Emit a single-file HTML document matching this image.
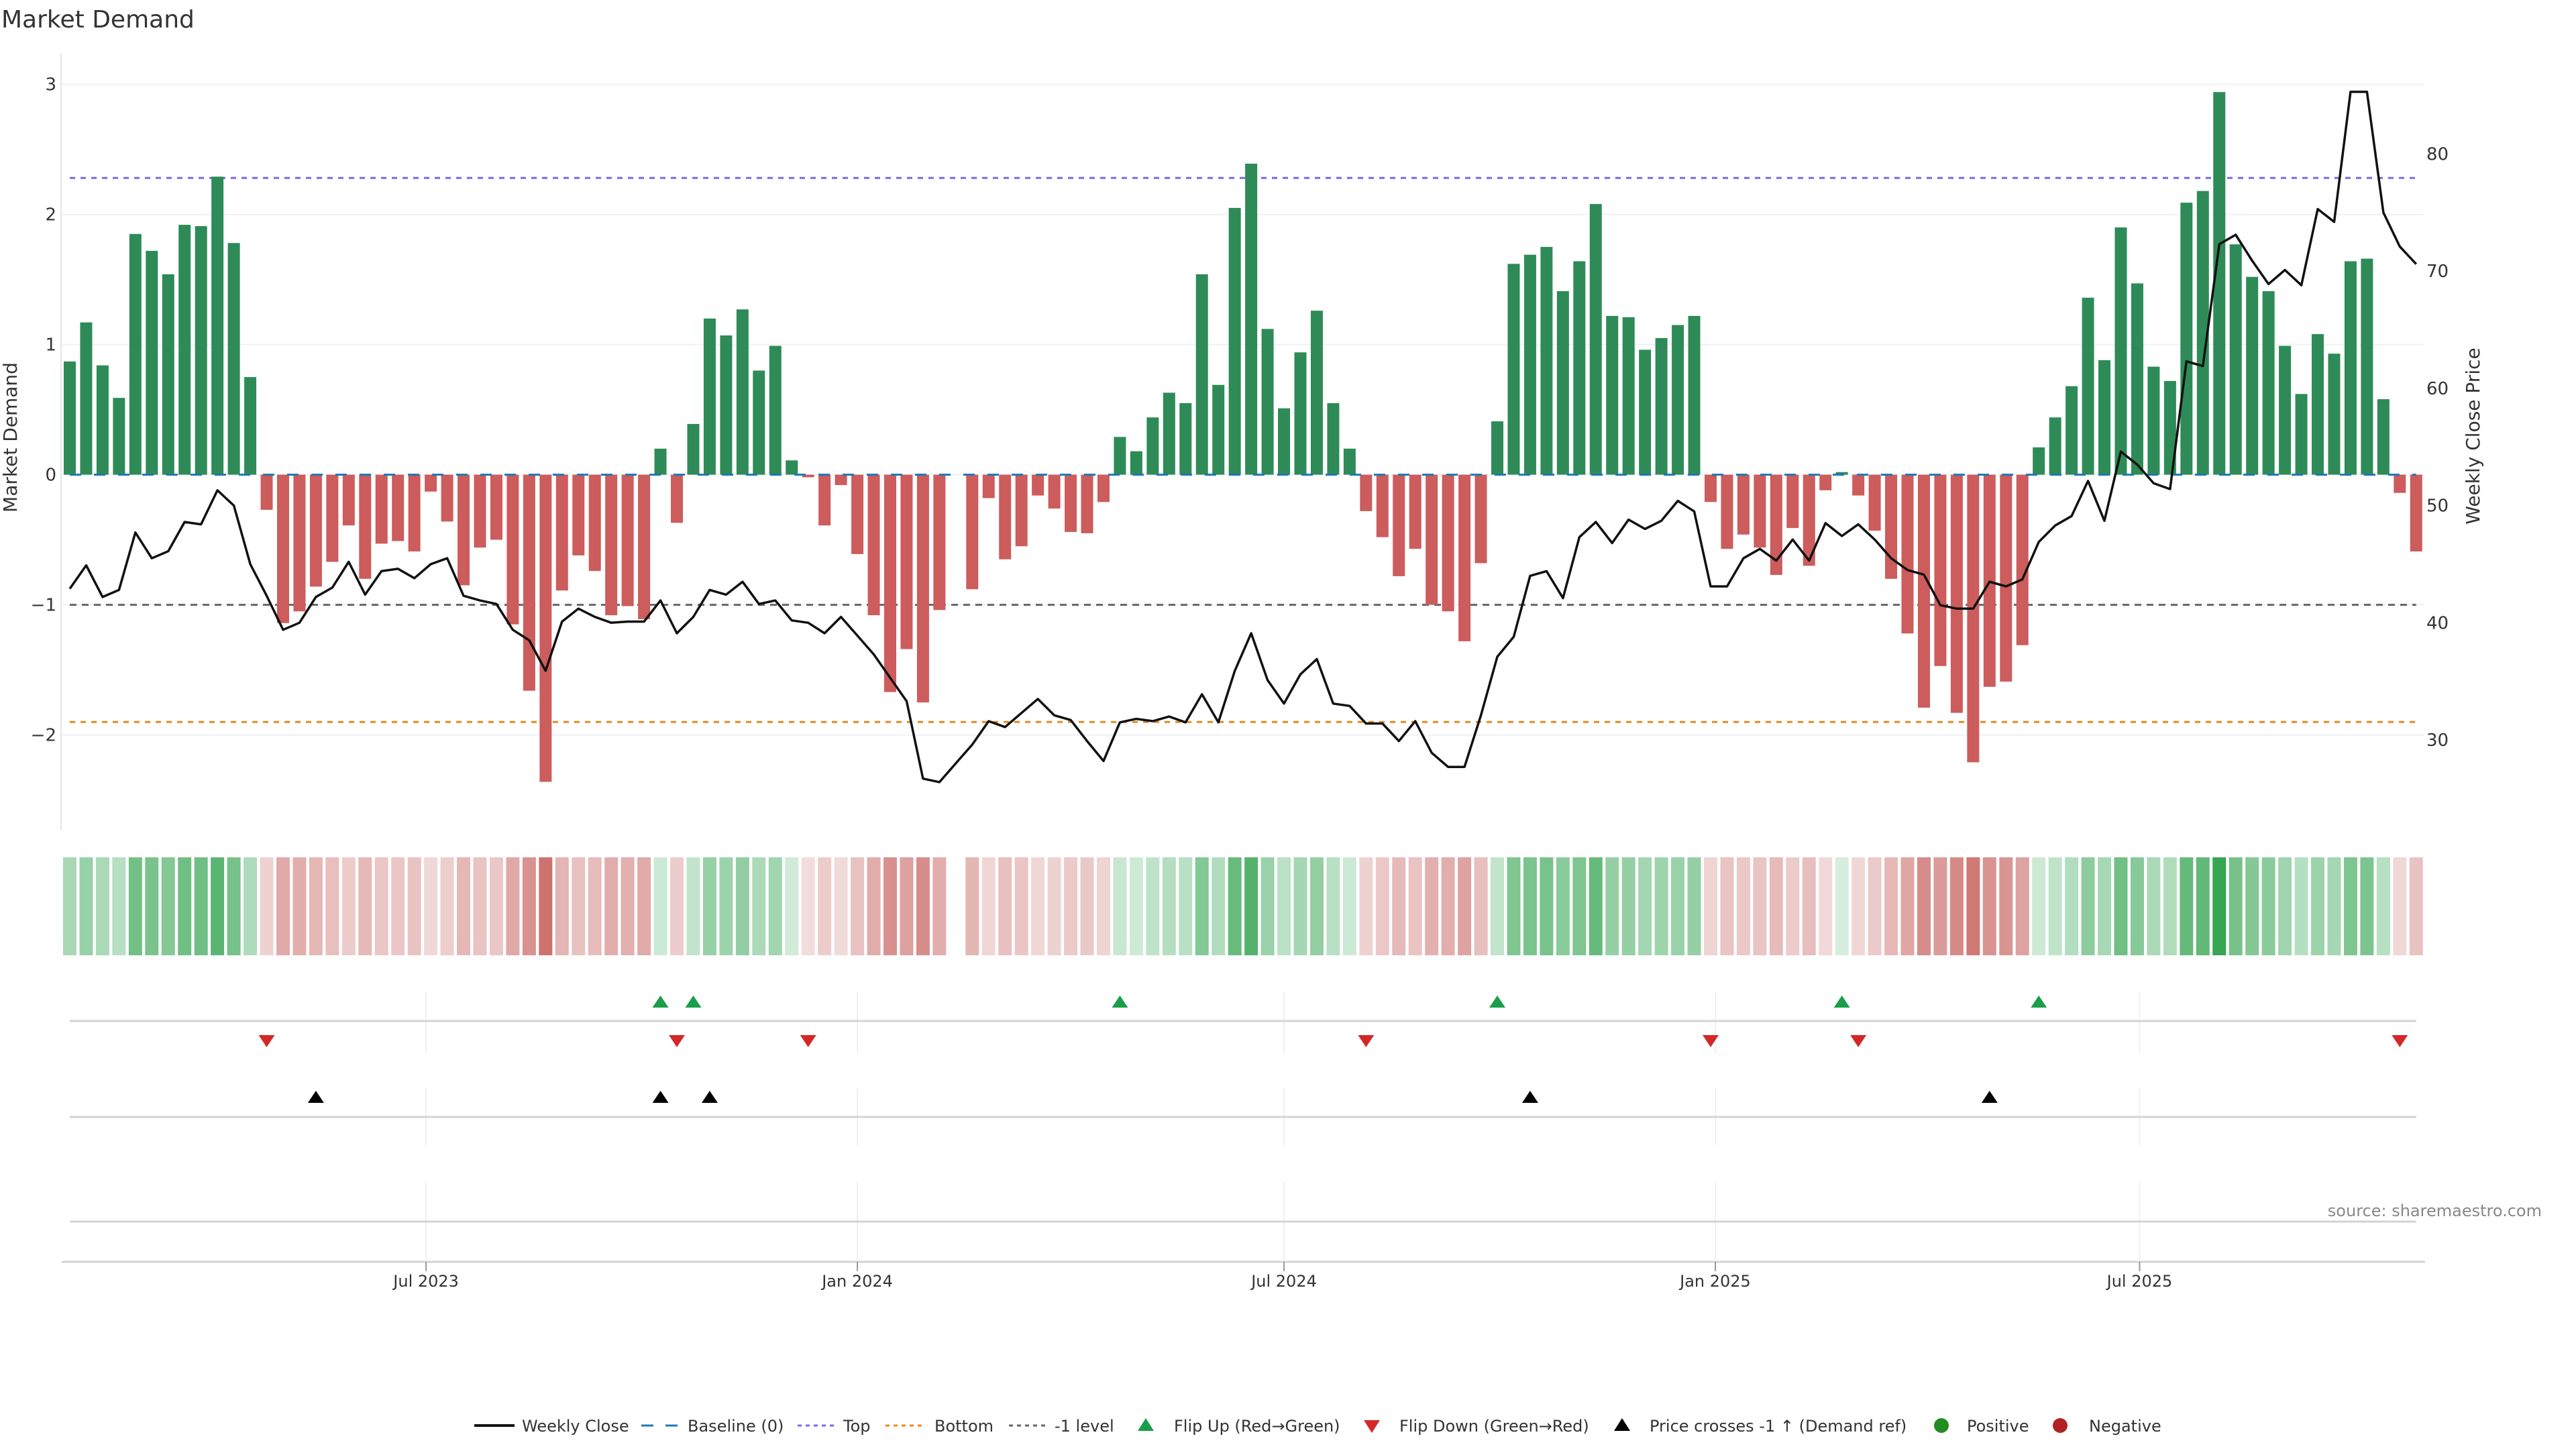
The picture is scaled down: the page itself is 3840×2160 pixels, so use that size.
<!DOCTYPE html>
<html><head><meta charset="utf-8"><title>Market Demand</title>
<style>
html,body{margin:0;padding:0;background:#fff;}
svg{display:block;font-family:"DejaVu Sans","Liberation Sans",sans-serif;}
</style></head>
<body>
<svg id="chart" xmlns="http://www.w3.org/2000/svg" width="3840" height="2160" viewBox="0 0 3840 2160">
<rect width="3840" height="2160" fill="#fff"/>
<text x="2" y="41" font-size="36" fill="#333">Market Demand</text>
<g id="grid"></g>
<g id="refs"></g>
<g id="bars"></g>
<g id="baseline"></g>
<g id="price"></g>
<g id="heat"></g>
<g id="markers"></g>
<g id="axes"></g>
<text x="3789" y="1813" font-size="24" fill="#888" text-anchor="end">source: sharemaestro.com</text>
<g id="legend"></g>
</svg>
<script>
const demand = [0.87,1.17,0.84,0.59,1.85,1.72,1.54,1.92,1.91,2.29,1.78,0.75,-0.27,-1.14,-1.05,-0.86,-0.67,-0.39,-0.80,-0.53,-0.51,-0.59,-0.13,-0.36,-0.85,-0.56,-0.50,-1.15,-1.66,-2.36,-0.89,-0.62,-0.74,-1.08,-1.01,-1.11,0.20,-0.37,0.39,1.20,1.07,1.27,0.80,0.99,0.11,-0.02,-0.39,-0.08,-0.61,-1.08,-1.67,-1.34,-1.75,-1.04,0,-0.88,-0.18,-0.65,-0.55,-0.16,-0.26,-0.44,-0.45,-0.21,0.29,0.18,0.44,0.63,0.55,1.54,0.69,2.05,2.39,1.12,0.51,0.94,1.26,0.55,0.20,-0.28,-0.48,-0.78,-0.57,-1.00,-1.05,-1.28,-0.68,0.41,1.62,1.69,1.75,1.41,1.64,2.08,1.22,1.21,0.96,1.05,1.15,1.22,-0.21,-0.57,-0.46,-0.56,-0.77,-0.41,-0.70,-0.12,0.02,-0.16,-0.43,-0.80,-1.22,-1.79,-1.47,-1.83,-2.21,-1.63,-1.59,-1.31,0.21,0.44,0.68,1.36,0.88,1.90,1.47,0.83,0.72,2.09,2.18,2.94,1.77,1.52,1.41,0.99,0.62,1.08,0.93,1.64,1.66,0.58,-0.14,-0.59];
const closes = [42.9,44.9,42.2,42.8,47.7,45.5,46.1,48.6,48.4,51.3,50.0,45.0,42.3,39.4,40.0,42.2,43.0,45.2,42.4,44.4,44.6,43.8,45.0,45.5,42.3,41.9,41.6,39.4,38.5,35.9,40.1,41.2,40.5,40.0,40.1,40.1,41.9,39.1,40.5,42.8,42.4,43.5,41.6,41.9,40.2,40.0,39.1,40.5,38.9,37.3,35.3,33.3,26.7,26.4,28.0,29.6,31.6,31.1,32.3,33.5,32.1,31.7,29.9,28.2,31.5,31.8,31.6,32.0,31.5,33.9,31.5,35.9,39.1,35.1,33.1,35.6,36.9,33.1,32.9,31.4,31.4,29.9,31.6,28.9,27.7,27.7,32.1,37.1,38.8,44.0,44.4,42.1,47.3,48.6,46.8,48.8,48.0,48.7,50.4,49.5,43.1,43.1,45.5,46.3,45.3,47.1,45.3,48.5,47.4,48.4,47.1,45.5,44.5,44.1,41.5,41.2,41.2,43.5,43.1,43.7,46.9,48.3,49.1,52.1,48.7,54.6,53.5,51.9,51.4,62.3,61.9,72.3,73.1,70.9,68.9,70.1,68.8,75.3,74.2,85.3,85.3,75.0,72.1,70.6];
const leftTicks = [-2,-1,0,1,2,3];
const rightTicks = [30,40,50,60,70,80];
const dateTickLabels = ["Jul 2023","Jan 2024","Jul 2024","Jan 2025","Jul 2025"];
const dateTickDates = ["2023-07-01","2024-01-01","2024-07-01","2025-01-01","2025-07-01"];
const startDate = "2023-01-30";
const topLevel = 2.28;
const bottomLevel = -1.90;
const minusOneLevel = -1;

const NS = "http://www.w3.org/2000/svg";
function mk(parent, tag, attrs){const e=document.createElementNS(NS,tag);for(const k in attrs)e.setAttribute(k,attrs[k]);document.getElementById(parent).appendChild(e);return e;}
const X0=104, DX=24.46;
function xi(i){return X0+DX*i;}
function yv(v){return 707.6-194*v;}
function yp(p){return 1103-17.47*(p-30);}
function pFromY(y){return 30+(1103-y)/17.47;}
function xDate(s){const d=(Date.parse(s)-Date.parse(startDate))/86400000/7;return xi(d);}
const xLast = xi(demand.length-1);
function fmt(v){return v<0?"\u2212"+Math.abs(v):String(v);}

leftTicks.forEach(t=>{
  let g=mk('grid','line',{x1:92,x2:3613,y1:yv(t),y2:yv(t),stroke:'#eef0f3','stroke-width':2});
  
  
  let tx=mk('axes','text',{x:84,y:yv(t)+9,'font-size':26,fill:'#333','text-anchor':'end'});
  tx.textContent=fmt(t);
  
  
});
rightTicks.forEach(t=>{
  let tx=mk('axes','text',{x:3617,y:yp(t)+9,'font-size':26,fill:'#333'});
  tx.textContent=String(t);
  
  
});
let ax=mk('axes','line',{x1:91,x2:91,y1:79,y2:1237,stroke:'#e6e6e6','stroke-width':2});


let yt=mk('axes','text',{x:0,y:0,'font-size':28,fill:'#333','text-anchor':'middle',transform:'translate(25,652) rotate(-90)'});
yt.textContent='Market Demand';


let yt2=mk('axes','text',{x:0,y:0,'font-size':28,fill:'#333','text-anchor':'middle',transform:'translate(3696,650) rotate(-90)'});
yt2.textContent='Weekly Close Price';



[[topLevel,'#7b68ee','8,8','top-level-line'],[minusOneLevel,'#666','10,8','minus-one-level-line'],[bottomLevel,'#e8891c','8,8','bottom-level-line']].forEach(r=>{
  let l=mk('refs','line',{x1:X0,x2:xLast,y1:yv(r[0]),y2:yv(r[0]),stroke:r[1],'stroke-width':3,'stroke-dasharray':r[2]});
  
  
});

demand.forEach((v,i)=>{
  if(v===0)return;
  const y0=yv(0), y1=yv(v);
  let b=mk('bars','rect',{x:xi(i)-9,y:Math.min(y0,y1),width:18,height:Math.abs(y1-y0),fill:v>0?'#2e8b57':'#cd5c5c'});
  
  
});
let bl=mk('baseline','line',{x1:X0,x2:xLast,y1:yv(0),y2:yv(0),stroke:'#1f77b4','stroke-width':3,'stroke-dasharray':'17,19'});



let pts=closes.map((p,i)=>xi(i).toFixed(1)+','+yp(p).toFixed(1)).join(' ');
let pl=mk('price','polyline',{points:pts,fill:'none',stroke:'#111','stroke-width':3.5,'stroke-linejoin':'round'});



function mix(a,b,t){return 'rgb('+a.map((c,k)=>Math.round(c+(b[k]-c)*t)).join(',')+')';}
demand.forEach((v,i)=>{
  if(v===0)return;
  let col = v>0 ? mix([215,238,222],[52,163,80],Math.min(1,v/3)) : mix([242,222,222],[205,112,108],Math.min(1,-v/2.4));
  let c=mk('heat','rect',{x:xi(i)-10,y:1278,width:20,height:146,fill:col});
  
  
});

[[1478,1570],[1622,1708],[1762,1888]].forEach(s=>{
  dateTickDates.forEach(d=>{
    let g=mk('markers','line',{x1:xDate(d),x2:xDate(d),y1:s[0],y2:s[1],stroke:'#eef0f3','stroke-width':2});
    
    
  });
});
[1522,1665,1821].forEach(y=>{
  let l=mk('markers','line',{x1:X0,x2:xLast,y1:y,y2:y,stroke:'#d3d3d3','stroke-width':3});
  
  
});
function triUp(x,y,c){return mk('markers','polygon',{points:`${x-12},${y+8} ${x+12},${y+8} ${x},${y-10}`,fill:c});}
function triDown(x,y,c){return mk('markers','polygon',{points:`${x-12},${y-8} ${x+12},${y-8} ${x},${y+10}`,fill:c});}
const crossPrice = pFromY(yv(minusOneLevel));
for(let i=1;i<demand.length;i++){
  if(demand[i]>0 && demand[i-1]<=0){let t=triUp(xi(i),1494,'#1a9e4a');}
  if(demand[i]<0 && demand[i-1]>0){let t=triDown(xi(i),1551,'#d62728');}
  if(closes[i]>crossPrice && closes[i-1]<=crossPrice){let t=triUp(xi(i),1636,'#000');}
}

let xa=mk('axes','line',{x1:92,x2:3615,y1:1881,y2:1881,stroke:'#d3d3d3','stroke-width':3});


dateTickDates.forEach((d,k)=>{
  let tk=mk('axes','line',{x1:xDate(d),x2:xDate(d),y1:1881,y2:1895,stroke:'#999','stroke-width':2});
  
  
  let tx=mk('axes','text',{x:xDate(d),y:1918,'font-size':24,fill:'#333','text-anchor':'middle'});
  tx.textContent=dateTickLabels[k];
  
  
});

const LY=2125;
function legText(x,s){let t=mk('legend','text',{x:x,y:LY+9,'font-size':24,fill:'#333'});t.textContent=s;}
let e;
e=mk('legend','line',{x1:707,x2:767,y1:LY,y2:LY,stroke:'#111','stroke-width':4});
legText(778,'Weekly Close');
e=mk('legend','line',{x1:956,x2:1012,y1:LY,y2:LY,stroke:'#1f77b4','stroke-width':3,'stroke-dasharray':'18,18'});
legText(1025,'Baseline (0)');
e=mk('legend','line',{x1:1189,x2:1244,y1:LY,y2:LY,stroke:'#7b68ee','stroke-width':3,'stroke-dasharray':'6,6'});
legText(1257,'Top');
e=mk('legend','line',{x1:1320,x2:1377,y1:LY,y2:LY,stroke:'#e8891c','stroke-width':3,'stroke-dasharray':'6,6'});
legText(1393,'Bottom');
e=mk('legend','line',{x1:1504,x2:1559,y1:LY,y2:LY,stroke:'#666','stroke-width':3,'stroke-dasharray':'6,6'});
legText(1572,'-1 level');
e=mk('legend','polygon',{points:`1696,${LY+8} 1720,${LY+8} 1708,${LY-11}`,fill:'#1a9e4a'});
legText(1750,'Flip Up (Red\u2192Green)');
e=mk('legend','polygon',{points:`2033,${LY-8} 2057,${LY-8} 2045,${LY+11}`,fill:'#d62728'});
legText(2086,'Flip Down (Green\u2192Red)');
e=mk('legend','polygon',{points:`2406,${LY+8} 2430,${LY+8} 2418,${LY-11}`,fill:'#000'});
legText(2459,'Price crosses -1 \u2191 (Demand ref)');
e=mk('legend','circle',{cx:2894,cy:LY,r:11,fill:'#228b22'});
legText(2932,'Positive');
e=mk('legend','circle',{cx:3071,cy:LY,r:11,fill:'#b22222'});
legText(3114,'Negative');
</script>
</body></html>
